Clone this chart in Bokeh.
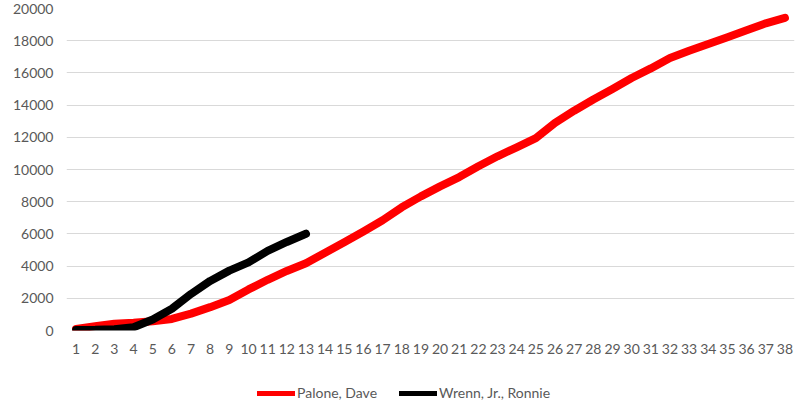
from bokeh.plotting import figure
from bokeh.layouts import column
from bokeh.models import FactorRange, Range1d, Legend, LegendItem, FixedTicker
from bokeh.embed import file_html
from bokeh.resources import INLINE

categories = [str(i) for i in range(1, 39)]
palone = [100, 270, 420, 480, 570, 720, 1050, 1450, 1900, 2550, 3150, 3700, 4180,
          4830, 5480, 6150, 6850, 7650, 8330, 8950, 9530, 10200, 10820, 11380, 11950,
          12900, 13650, 14350, 15000, 15680, 16280, 16930, 17380, 17800, 18220, 18650,
          19080, 19420]
wrenn_cats = categories[:13]
wrenn = [30, 40, 80, 200, 680, 1350, 2270, 3080, 3720, 4230, 4950, 5500, 6010]
y_ticks = [0, 2000, 4000, 6000, 8000, 10000, 12000, 14000, 16000, 18000, 20000]

FONT = "Lato"
TXT = "#595959"
FS = "14px"

xr = FactorRange(factors=categories, range_padding=0)
yr = Range1d(0, 20000)

p = figure(width=802, height=370, output_backend="svg", toolbar_location=None,
           x_range=xr, y_range=yr,
           min_border_left=66, min_border_right=8, min_border_top=8, min_border_bottom=40)
p.outline_line_color = None
p.background_fill_color = "white"
p.border_fill_color = "white"

p.line(x=categories, y=palone, line_color="#ff0000", line_width=8,
       line_join="round", line_cap="round")
p.line(x=wrenn_cats, y=wrenn, line_color="#000000", line_width=8,
       line_join="round", line_cap="round")

p.xgrid.grid_line_color = None
p.ygrid.grid_line_color = "#d9d9d9"
p.ygrid.grid_line_width = 1
p.yaxis.ticker = FixedTicker(ticks=y_ticks)

for ax in (p.xaxis[0], p.yaxis[0]):
    ax.axis_line_color = None
    ax.major_tick_line_color = None
    ax.minor_tick_line_color = None
    ax.major_tick_out = 0
    ax.major_tick_in = 0
    ax.minor_tick_out = 0
    ax.major_label_text_font = FONT
    ax.major_label_text_font_size = FS
    ax.major_label_text_color = TXT
p.yaxis.major_label_standoff = 13
p.xaxis.major_label_standoff = 13
p.yaxis.formatter.use_scientific = False

# legend strip under the chart
lf = figure(width=802, height=40, output_backend="svg", toolbar_location=None,
            x_range=xr, y_range=Range1d(0, 20000),
            min_border_left=0, min_border_right=0, min_border_top=0, min_border_bottom=0)
lf.outline_line_color = None
lf.xaxis.visible = False
lf.yaxis.visible = False
lf.xgrid.visible = False
lf.ygrid.visible = False
# single-point proxies: nothing is drawn, only their legend glyphs
lp1 = lf.line(x=categories[:1], y=palone[:1], line_color="#ff0000", line_width=5,
              line_cap="round")
lp2 = lf.line(x=wrenn_cats[:1], y=wrenn[:1], line_color="#000000", line_width=5,
              line_cap="round")
legend = Legend(items=[LegendItem(label="Palone, Dave", renderers=[lp1]),
                       LegendItem(label="Wrenn, Jr., Ronnie", renderers=[lp2])],
                orientation="horizontal", location=(191, 9),
                glyph_width=38, glyph_height=16, label_standoff=2, spacing=22,
                padding=0, margin=0, border_line_color=None,
                background_fill_alpha=0,
                label_text_font=FONT, label_text_font_size=FS,
                label_text_color=TXT)
lf.add_layout(legend, "center")

layout = column(p, lf, spacing=0)
open("out.html", "w").write(file_html(layout, INLINE))
